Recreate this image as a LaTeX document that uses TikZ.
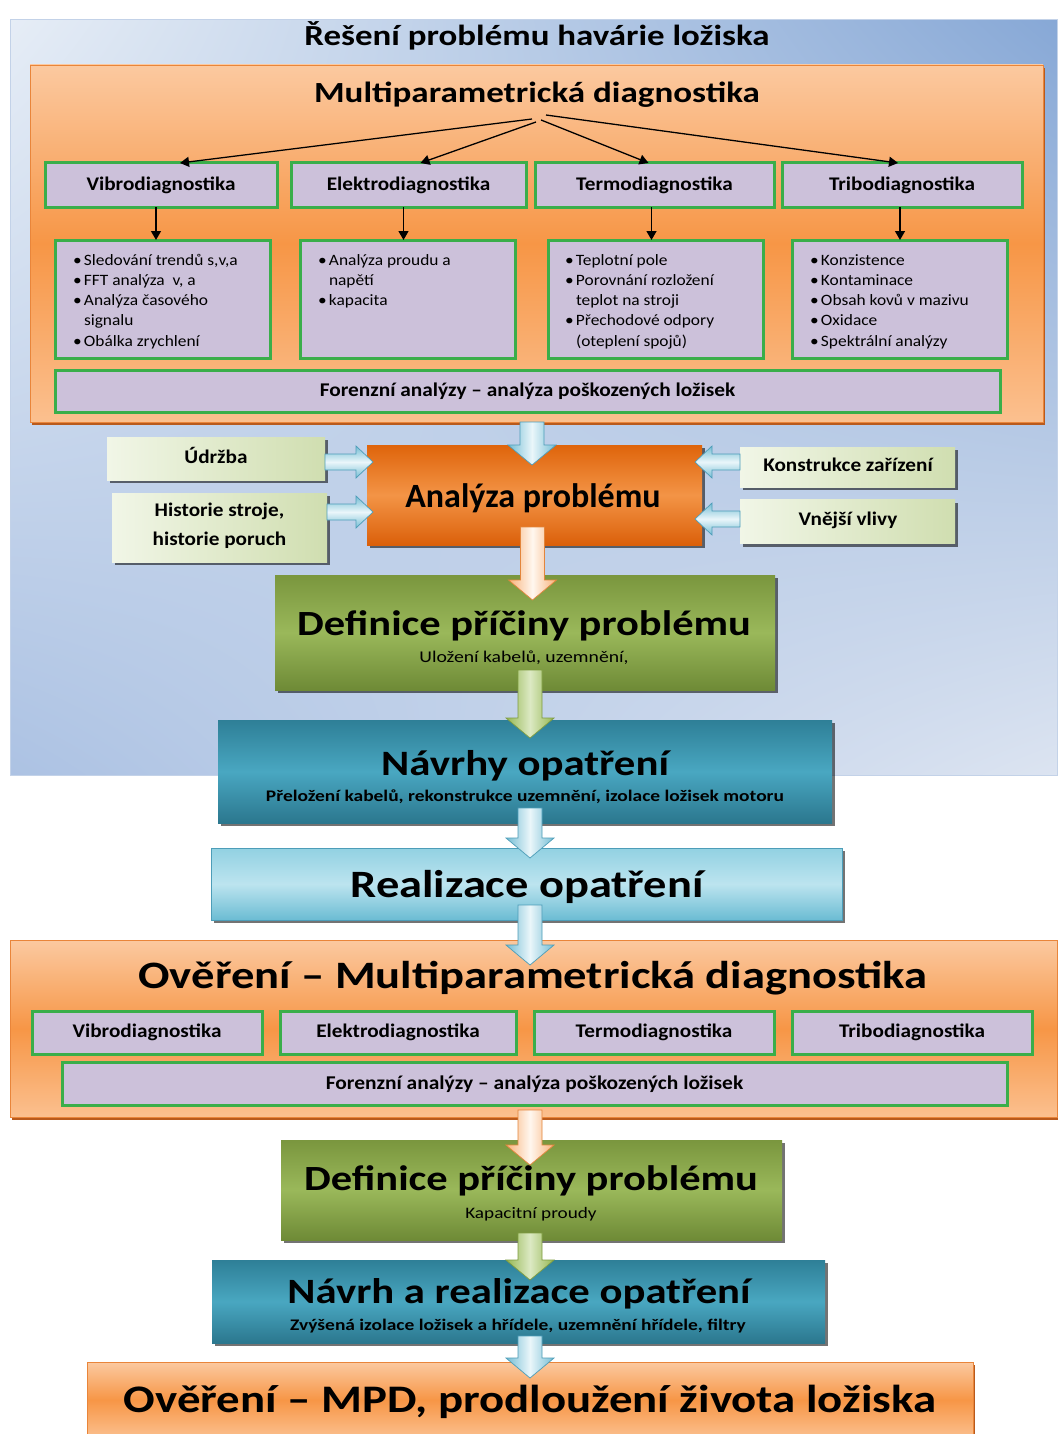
\documentclass[tikz,border=0pt]{standalone}
\usepackage{fontspec}
\setmainfont{Carlito}
\newfontfamily\wA{Carlito}[FakeStretch=1.2]
\newfontfamily\wB{Carlito}[FakeStretch=1.1]
\usetikzlibrary{arrows.meta,calc,shadows,shadings}
\definecolor{lav}{HTML}{CCC1DA}
\definecolor{gbd}{HTML}{3AAE4A}
\definecolor{bgUL}{HTML}{E6EDF6}
\definecolor{bgUR}{HTML}{87A8D6}
\definecolor{bgLL}{HTML}{ACC2E3}
\definecolor{bgLR}{HTML}{DCE4F1}
\definecolor{bgB}{HTML}{C3D2E8}
\definecolor{orT}{HTML}{FBC9A0}
\definecolor{orM}{HTML}{F79646}
\definecolor{orB}{HTML}{FBC08F}
\definecolor{orD}{HTML}{E9853A}
\definecolor{orS}{HTML}{B95A1C}
\definecolor{abE}{HTML}{74BDD4}
\definecolor{abC}{HTML}{EAF6FA}
\definecolor{abD}{HTML}{4D9DB8}
\definecolor{apE}{HTML}{F8B27A}
\definecolor{apC}{HTML}{FFF7EF}
\definecolor{apD}{HTML}{E3853C}
\definecolor{agE}{HTML}{95B752}
\definecolor{agC}{HTML}{DCE9C3}
\definecolor{agD}{HTML}{7E9C40}
\definecolor{ibL}{HTML}{F1F6E7}
\definecolor{ibR}{HTML}{D0DEB0}
\definecolor{HTMLgT}{HTML}{7A963E}
\definecolor{HTMLgB}{HTML}{6E8A36}
\definecolor{HTMLgM}{HTML}{9AB85A}
\definecolor{tlT}{HTML}{2E7F97}
\definecolor{tlB}{HTML}{2B778E}
\definecolor{tlM}{HTML}{49A7C1}
\definecolor{rlT}{HTML}{92D1E2}
\definecolor{rlB}{HTML}{6BBCD3}
\definecolor{rlM}{HTML}{BCE4EF}
\definecolor{anT}{HTML}{DF640B}
\definecolor{anB}{HTML}{DB600A}
\definecolor{anM}{HTML}{F39446}
\newcommand\bi{\makebox[11pt][l]{•}}
\newcommand\bc{\hspace*{11pt}}
\newcommand\blkdown[3]{\path[#1] let \p1=(#2), \p2=(#3) in
  (\x1-12pt,\y1) -- (\x1-12pt,\y2+20pt) -- (\x1-24pt,\y2+20pt) -- (\x1,\y2)
  -- (\x1+24pt,\y2+20pt) -- (\x1+12pt,\y2+20pt) -- (\x1+12pt,\y1) -- cycle;}
\newcommand\blkright[3]{\path[#1] let \p1=(#2), \p2=(#3) in
  (\x1,\y1-8pt) -- (\x2-17pt,\y1-8pt) -- (\x2-17pt,\y1-16pt) -- (\x2,\y1)
  -- (\x2-17pt,\y1+16pt) -- (\x2-17pt,\y1+8pt) -- (\x1,\y1+8pt) -- cycle;}
\newcommand\blkleft[3]{\path[#1] let \p1=(#2), \p2=(#3) in
  (\x1,\y1-8pt) -- (\x2+17pt,\y1-8pt) -- (\x2+17pt,\y1-16pt) -- (\x2,\y1)
  -- (\x2+17pt,\y1+16pt) -- (\x2+17pt,\y1+8pt) -- (\x1,\y1+8pt) -- cycle;}
\begin{document}
\begin{tikzpicture}[x=1pt,y=-1pt,
  box/.style={inner sep=0pt, outer sep=0pt},
  shad/.style={drop shadow={shadow xshift=2.5pt,shadow yshift=-3pt,fill=black,opacity=0.55}},
  bgbox/.style={box, upper left=bgUL, upper right=bgUR, lower left=bgLL, lower right=bgLR, draw=bgB, line width=1pt},
  obox/.style={box, top color=orT, bottom color=orB, middle color=orM, draw=orD, line width=0.8pt,
    drop shadow={shadow xshift=1.5pt,shadow yshift=-3pt,fill=orS,opacity=1}},
  dbox/.style={box, fill=lav, draw=gbd, line width=3pt},
  lbl/.style={font=\wB\bfseries\fontsize{19.3}{23}\selectfont},
  tA/.style={box, anchor=base, font=\wA\bfseries\fontsize{#1}{#1}\selectfont},
  tB/.style={box, anchor=base, font=\wB\bfseries\fontsize{#1}{#1}\selectfont},
  sub/.style={box, anchor=base, font=\wA\fontsize{#1}{#1}\selectfont},
  subb/.style={box, anchor=base, font=\wA\bfseries\fontsize{#1}{#1}\selectfont},
  bul/.style={box, anchor=north west, align=left, font=\wB\fontsize{15.8}{20.3}\selectfont},
  conn/.style={draw=black, line width=1.3pt, -{Triangle[length=9pt,width=10pt]}},
  ibox/.style={box, left color=ibL, right color=ibR, shad},
  gbox/.style={box, top color=HTMLgT, bottom color=HTMLgB, middle color=HTMLgM, shad},
  arB/.style={left color=abE, right color=abE, middle color=abC, draw=abD, line width=0.7pt},
  arP/.style={left color=apE, right color=apE, middle color=apC, draw=apD, line width=0.7pt},
  arG/.style={left color=agE, right color=agE, middle color=agC, draw=agD, line width=0.7pt},
  arH/.style={top color=abE, bottom color=abE, middle color=abC, draw=abD, line width=0.7pt}
]
\useasboundingbox (0,0) rectangle (1057,1434);
\fill[white] (0,0) rectangle (1057,1434);
% background
\node[bgbox, minimum width=1047, minimum height=755] (bg) at (533.5,397.5) {};
\node[tA=29.1] (title) at (537,46) {Řešení problému havárie ložiska};
% top MPD block
\node[obox, minimum width=1013, minimum height=357] (mpd) at (536.5,243.5) {};
\node[tA=29.2] (multi) at (537,102.5) {Multiparametrická diagnostika};
\node[dbox, lbl, minimum width=232, minimum height=44] (v1) at (161,185) {Vibrodiagnostika};
\node[dbox, lbl, minimum width=235, minimum height=44] (e1) at (408.5,185) {Elektrodiagnostika};
\node[dbox, lbl, minimum width=239, minimum height=44] (t1) at (654.5,185) {Termodiagnostika};
\node[dbox, lbl, minimum width=240, minimum height=44] (b1) at (902,185) {Tribodiagnostika};
\coordinate (m1) at (532,119);
\coordinate (m2) at (536,122);
\coordinate (m3) at (541,120);
\coordinate (m4) at (546,115);
\draw[conn] (m1) -- ([xshift=19pt]v1.north);
\draw[conn] (m2) -- ([xshift=12pt]e1.north);
\draw[conn] (m3) -- ([xshift=-6pt]t1.north);
\draw[conn] (m4) -- ([xshift=-4pt]b1.north);
\node[dbox, minimum width=215, minimum height=118] (d1) at (162.5,299) {};
\node[dbox, minimum width=215, minimum height=118] (d2) at (407.5,299) {};
\node[dbox, minimum width=215, minimum height=118] (d3) at (655.5,299) {};
\node[dbox, minimum width=215, minimum height=118] (d4) at (899.5,299) {};
\draw[conn] ([xshift=-5pt]v1.south) -- ([xshift=-5pt]v1.south |- d1.north);
\draw[conn] ([xshift=-5pt]e1.south) -- ([xshift=-5pt]e1.south |- d2.north);
\draw[conn] ([xshift=-3pt]t1.south) -- ([xshift=-3pt]t1.south |- d3.north);
\draw[conn] ([xshift=-2pt]b1.south) -- ([xshift=-2pt]b1.south |- d4.north);
\node[bul] (d1t) at (73,252) {\rule{0pt}{13pt}\bi Sledování trendů s,v,a\\ \bi FFT analýza\ \ v, a\\ \bi Analýza časového\\ \bc signalu\\ \bi Obálka zrychlení};
\node[bul] (d2t) at (318,252) {\rule{0pt}{13pt}\bi Analýza proudu a\\ \bc napětí\\ \bi kapacita};
\node[bul] (d3t) at (565,252) {\rule{0pt}{13pt}\bi Teplotní pole\\ \bi Porovnání rozložení\\ \bc teplot na stroji\\ \bi Přechodové odpory\\ \bc (oteplení spojů)};
\node[bul] (d4t) at (810,252) {\rule{0pt}{13pt}\bi Konzistence\\ \bi Kontaminace\\ \bi Obsah kovů v mazivu\\ \bi Oxidace\\ \bi Spektrální analýzy};
\node[dbox, minimum width=945, minimum height=42] (f1) at (527.5,391) {};
\node[tB=19.4] (f1t) at (527.5,396.5) {Forenzní analýzy – analýza poškozených ložisek};
% analysis section
\node[ibox, minimum width=218, minimum height=43] (ud) at (216,458.5) {};
\node[tB=19.3] (udt) at (216,463.5) {Údržba};
\node[ibox, minimum width=215, minimum height=69] (hi) at (219.5,527.5) {};
\node[box, align=center, font=\wB\bfseries\fontsize{19.3}{29}\selectfont] (hit) at (219.5,526) {Historie stroje,\\historie poruch};
\node[ibox, minimum width=215, minimum height=40] (ko) at (847.5,467) {};
\node[tB=19.3] (kot) at (848,471) {Konstrukce zařízení};
\node[ibox, minimum width=215, minimum height=44] (vn) at (847.5,521.5) {};
\node[tB=19.3] (vnt) at (848,525.5) {Vnější vlivy};
\node[box, top color=anT, bottom color=anB, middle color=anM, shad, minimum width=335, minimum height=100] (an) at (534.5,495) {};
\node[box, anchor=base, font=\bfseries\fontsize{34}{34}\selectfont] (ant) at (533,507) {Analýza problému};
% definition / proposals
\node[gbox, minimum width=500, minimum height=115] (def1) at (525,632.5) {};
\node[tA=35.4] (def1t) at (524,635) {Definice příčiny problému};
\node[sub=16.4] (def1s) at (524,662) {Uložení kabelů, uzemnění,};
\node[box, top color=tlT, bottom color=tlB, middle color=tlM, shad, minimum width=614, minimum height=103] (nav1) at (525,771.5) {};
\node[tA=35.7] (nav1t) at (525,775) {Návrhy opatření};
\node[subb=16.2] (nav1s) at (525,801) {Přeložení kabelů, rekonstrukce uzemnění, izolace ložisek motoru};
\node[box, top color=rlT, bottom color=rlB, middle color=rlM, draw=abD, line width=0.6pt, shad, minimum width=631, minimum height=72] (real) at (526.5,884) {};
\node[tA=38.7] (realt) at (527,897) {Realizace opatření};
% verification
\node[obox, minimum width=1047, minimum height=177] (ov) at (533.5,1028.5) {};
\node[tA=38.8] (ovt) at (533,988) {Ověření – Multiparametrická diagnostika};
\node[dbox, lbl, minimum width=230, minimum height=43] (v2) at (147,1032.5) {Vibrodiagnostika};
\node[dbox, lbl, minimum width=236, minimum height=43] (e2) at (398,1032.5) {Elektrodiagnostika};
\node[dbox, lbl, minimum width=240, minimum height=43] (t2) at (654,1032.5) {Termodiagnostika};
\node[dbox, lbl, minimum width=240, minimum height=43] (b2) at (912,1032.5) {Tribodiagnostika};
\node[dbox, minimum width=945, minimum height=43] (f2) at (534.5,1083.5) {};
\node[tB=19.5] (f2t) at (534.5,1089) {Forenzní analýzy – analýza poškozených ložisek};
\node[gbox, minimum width=501, minimum height=100] (def2) at (531.5,1190) {};
\node[tA=35.4] (def2t) at (531,1190) {Definice příčiny problému};
\node[sub=16] (def2s) at (531,1218) {Kapacitní proudy};
\node[box, top color=tlT, bottom color=tlB, middle color=tlM, shad, minimum width=613, minimum height=83] (nav2) at (518.5,1301.5) {};
\node[tA=35.6] (nav2t) at (519,1303) {Návrh a realizace opatření};
\node[subb=16.2] (nav2s) at (518,1330) {Zvýšená izolace ložisek a hřídele, uzemnění hřídele, filtry};
\node[obox, minimum width=886, minimum height=76] (fin) at (530,1400) {};
\node[tA=39] (fint) at (530,1412) {Ověření – MPD, prodloužení života ložiska};
% block arrows
\blkdown{arB}{$(mpd.south)+(-4.5,0)$}{$(an.north)+(-2.5,20)$}
\blkright{arH}{$(ud.east)+(0,3.5)$}{$(an.west)+(6,0)$}
\blkright{arH}{$(hi.east)+(0,-15.5)$}{$(an.west)+(6,0)$}
\blkleft{arH}{$(ko.west)+(0,-5)$}{$(an.east)+(-7,0)$}
\blkleft{arH}{$(vn.west)+(0,-2.5)$}{$(an.east)+(-7,0)$}
\blkdown{arP}{$(an.south)+(-2,-18)$}{$(def1.north)+(7,25)$}
\blkdown{arG}{$(def1.south)+(5,-20)$}{$(nav1.north)+(5,18)$}
\blkdown{arB}{$(nav1.south)+(5,-15)$}{$(real.north)+(4,10)$}
\blkdown{arB}{$(real.south)+(3.5,-15)$}{$(ov.north)+(0,25)$}
\blkdown{arP}{$(ov.south)+(-3.5,-7)$}{$(def2.north)+(0,25)$}
\blkdown{arG}{$(def2.south)+(-1.5,-7)$}{$(nav2.north)+(0,20)$}
\blkdown{arB}{$(nav2.south)+(11.5,-7)$}{$(fin.north)+(0,16)$}
\end{tikzpicture}
\end{document}
